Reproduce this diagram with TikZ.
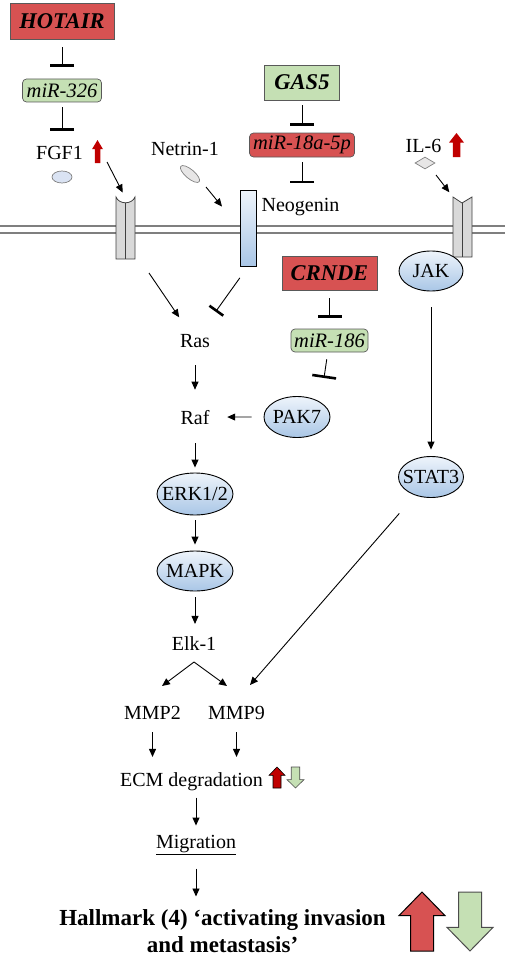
\documentclass[tikz,border=0pt]{standalone}
\usepackage{fontspec}
\setmainfont{Liberation Serif}
\usetikzlibrary{arrows.meta,shapes.geometric,calc}
\definecolor{lncred}{HTML}{D75252}
\definecolor{lncgreen}{HTML}{C5E0B4}
\definecolor{upred}{HTML}{C00000}
\definecolor{protlight}{HTML}{EEF4FB}
\definecolor{protdark}{HTML}{A9C6E6}
\definecolor{membrane}{HTML}{7F7F7F}
\definecolor{rcpgray}{HTML}{D9D9D9}
\definecolor{ligblue}{HTML}{DAE3F3}
\definecolor{liggray}{HTML}{E7E6E6}
\definecolor{boxline}{HTML}{595959}
\tikzset{
  lnc/.style={draw=boxline,line width=0.7pt,inner sep=0pt,font=\fontsize{22.5}{26}\selectfont\bfseries\itshape},
  mir/.style={draw=boxline,line width=0.7pt,rounded corners=4pt,inner sep=0pt,font=\fontsize{20.5}{24}\selectfont\itshape},
  prot/.style={ellipse,draw=black,line width=0.9pt,top color=protlight,bottom color=protdark,inner xsep=-10pt,inner ysep=0pt,font=\fontsize{20}{24}\selectfont},
  txt/.style={inner sep=0pt,anchor=base,font=\fontsize{20}{24}\selectfont},
  flow/.style={-{Triangle[length=8pt,width=7pt]},line width=0.9pt},
  block/.style={-{Bar[width=#1,line width=2.6pt]},line width=0.9pt},
  block/.default=24pt,
  uparr/.pic={\path[pic actions] (-0.25,0) -- (-0.25,-0.6) -- (-0.5,-0.6) -- (0,-1) -- (0.5,-0.6) -- (0.25,-0.6) -- (0.25,0) -- cycle;},
  dnarr/.pic={\path[pic actions] (-0.25,0) -- (-0.25,0.6) -- (-0.5,0.6) -- (0,1) -- (0.5,0.6) -- (0.25,0.6) -- (0.25,0) -- cycle;},
}
\begin{document}
\begin{tikzpicture}[x=1pt,y=-1pt]
\useasboundingbox (0,0) rectangle (505,971);
\tikzset{
  rcp/.style={draw=black!75,line width=0.8pt,fill=rcpgray},
  lig/.style={draw=black!50,line width=0.7pt,inner sep=0pt},
}
\draw[membrane,line width=1.8pt] (0,226) -- (505,226) (0,233) -- (505,233);
\draw[rcp] (116,259) -- (116,197) .. controls (119,204.7) and (132,204.7) .. (135,197) -- (135,259) -- cycle;
\draw[rcp] (125.5,202.8) -- (125.5,259);
\draw[rcp] (453,257) -- (453,197) -- (462,203) -- (472,197) -- (472,257) -- cycle;
\draw[rcp] (462,203) -- (462,257);
\coordinate (fgfr) at (125,197);
\coordinate (il6r) at (453,197);
\node[draw=black,line width=0.9pt,top color=protlight,bottom color=protdark,minimum width=16pt,minimum height=76pt,inner sep=0pt] (neo) at (248,228) {};

\node[lnc,fill=lncred,minimum width=104pt,minimum height=36pt] (hotair) at (62,21) {HOTAIR};
\node[mir,fill=lncgreen,minimum width=79pt,minimum height=23pt] (mir326) at (62,90.5) {miR-326};
\node[lnc,fill=lncgreen,minimum width=75pt,minimum height=35pt] (gas5) at (302,82.5) {GAS5};
\node[mir,fill=lncred,minimum width=105pt,minimum height=24pt] (mir18) at (302,145) {miR-18a-5p};
\node[lnc,fill=lncred,minimum width=95pt,minimum height=34pt] (crnde) at (329.5,273) {CRNDE};
\node[mir,fill=lncgreen,minimum width=77pt,minimum height=23pt] (mir186) at (329.5,340.5) {miR-186};

\node[txt] (fgf1) at (59.5,159) {FGF1};
\node[txt] (netrin) at (185,155) {Netrin-1};
\node[txt] (neog) at (300.5,211) {Neogenin};
\node[txt] (il6) at (423.5,153) {IL-6};
\node[txt] (ras) at (195,347) {Ras};
\node[txt] (raf) at (195,424) {Raf};
\node[txt] (elk) at (194,650) {Elk-1};
\node[txt] (mmp2) at (152.5,719) {MMP2};
\node[txt] (mmp9) at (236.5,719) {MMP9};
\node[txt] (ecm) at (191.5,786) {ECM degradation};
\node[txt] (mig) at (196,848) {\underline{Migration}};
\node[txt,anchor=center,align=center,font=\fontsize{23}{27}\selectfont\bfseries] (hall) at (222.5,930.7) {Hallmark (4) ‘activating invasion\\and metastasis’};

\node[lig,ellipse,fill=ligblue,minimum width=20pt,minimum height=12pt] (fgfl) at (62,177) {};
\node[lig,ellipse,fill=liggray,minimum width=24pt,minimum height=9pt,rotate=-40] (netl) at (190,174) {};
\node[lig,diamond,fill=liggray,minimum width=20pt,minimum height=12pt] (il6l) at (425,163) {};

\node[prot,minimum width=64pt,minimum height=40pt] (jak) at (431,271) {JAK};
\node[prot,minimum width=65pt,minimum height=41pt] (stat3) at (431,477) {STAT3};
\node[prot,minimum width=66pt,minimum height=41pt] (pak7) at (297,417) {PAK7};
\node[prot,minimum width=76pt,minimum height=42pt] (erk) at (195,494) {ERK1/2};
\node[prot,minimum width=76pt,minimum height=40pt] (mapk) at (195,571) {MAPK};

\pic[fill=upred,shift={(97.5,163)},xscale=11,yscale=23] {uparr};
\pic[fill=upred,shift={(456.5,157)},xscale=15,yscale=24] {uparr};
\pic[fill=upred,draw=black,line width=0.6pt,shift={(277,788)},xscale=16,yscale=21] {uparr};
\pic[fill=lncgreen,draw=black!70,line width=0.6pt,shift={(295.5,767)},xscale=17,yscale=21] {dnarr};
\pic[fill=lncred,draw=black,line width=1pt,shift={(422,951)},xscale=46,yscale=59] {uparr};
\pic[fill=lncgreen,draw=black!70,line width=1pt,shift={(470,892)},xscale=46,yscale=59] {dnarr};

\coordinate (fgfgo) at (107,162);
\coordinate (netgo) at (206,187);
\coordinate (ilgo) at (436,175);
\coordinate (fgfout) at (149,273);
\coordinate (pakbar) at (324,378);
\coordinate (fork) at (194,662);

\draw[block,shorten <=8pt,shorten >=12pt] (hotair) -- (mir326);
\draw[block,shorten <=5pt,shorten >=14.8pt] (mir326) -- (mir326 |- fgf1.north);
\draw[block,shorten <=5pt,shorten >=7pt] (gas5) -- (mir18);
\draw[block,shorten <=5pt,shorten >=14.3pt] (mir18) -- (mir18 |- neog.north);
\draw[block,shorten <=8pt,shorten >=11pt] (crnde) -- (mir186);
\draw[block,shorten <=7pt] (mir186) -- (pakbar);
\draw[block=17pt,shorten <=14pt,shorten >=27pt] (neo.south) -- (ras);
\draw[flow,shorten >=5pt] (fgfgo) -- (fgfr);
\draw[flow,shorten >=27.7pt] (netgo) -- (neo.west);
\draw[flow,shorten >=6pt] (ilgo) -- (il6r);
\draw[flow,shorten >=19.8pt] (fgfout) -- (ras);
\draw[flow,shorten <=16pt,shorten >=6.5pt] (jak) -- (stat3);
\draw[flow,shorten <=24pt] (stat3) -- ([xshift=13.5pt,yshift=34pt]mmp9.base);
\draw[flow,shorten <=12pt,shorten >=17.6pt] (pak7) -- (raf);
\draw[flow,shorten <=18pt,shorten >=20pt] (ras) -- (raf);
\draw[flow,shorten <=19pt,shorten >=5pt] (raf) -- (erk);
\draw[flow,shorten <=5pt,shorten >=6pt] (erk) -- (mapk);
\draw[flow,shorten <=6pt,shorten >=12pt] (mapk) -- (mapk |- elk.north);
\draw[flow] (fork) -- ([xshift=9.5pt,yshift=33pt]mmp2.base);
\draw[flow] (fork) -- ([xshift=-9.5pt,yshift=33pt]mmp9.base);
\draw[flow,shorten <=13pt,shorten >=15pt] (mmp2) -- (mmp2 |- ecm.north);
\draw[flow,shorten <=13pt,shorten >=15pt] (mmp9) -- (mmp9 |- ecm.north);
\draw[flow,shorten <=7pt,shorten >=9pt] (ecm.south -| mig.north) -- (mig.north);
\draw[flow,shorten <=14pt,shorten >=12.4pt] (mig.south) -- (mig.south |- hall.north);
\end{tikzpicture}
\end{document}
